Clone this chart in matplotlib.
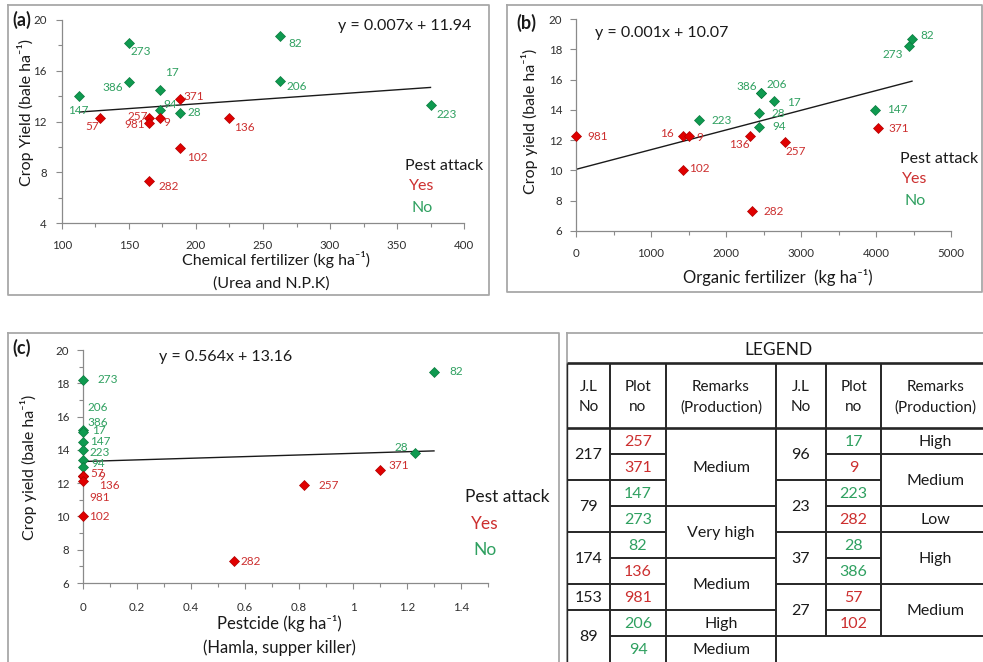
import matplotlib
matplotlib.use("Agg")
import matplotlib.pyplot as plt
import numpy as np
from matplotlib.ticker import FuncFormatter

plt.rcParams["font.family"] = ["Lato", "DejaVu Sans"]

# ---- data -------------------------------------------------------------
# plots that suffered pest attack (label "16" in panel b is drawn red)
PEST_YES = ["257", "371", "136", "981", "9", "282", "57", "102", "16"]

# (a) chemical fertilizer vs yield
a_plots = ["147", "273", "386", "17", "94", "28", "371", "57", "257",
           "981", "9", "136", "102", "282", "82", "206", "223"]
a_fert = [113, 150, 150, 173, 173, 188, 188, 128, 165,
          165, 173, 225, 188, 165, 263, 263, 375]
a_yield = [14.0, 18.2, 15.1, 14.5, 12.9, 12.7, 13.8, 12.3, 12.3,
           11.9, 12.3, 12.3, 9.9, 7.3, 18.7, 15.2, 13.3]
a_eq = "y = 0.007x + 11.94"
a_trend = (0.0074, 11.91)

# (b) organic fertilizer vs yield
b_plots = ["981", "16", "9", "102", "223", "136", "386", "206", "17",
           "28", "94", "257", "282", "147", "371", "273", "82"]
b_fert = [0, 1430, 1500, 1420, 1640, 2320, 2470, 2470, 2640,
          2440, 2440, 2790, 2350, 3980, 4030, 4440, 4480]
b_yield = [12.3, 12.3, 12.3, 10.0, 13.3, 12.3, 15.1, 15.1, 14.6,
           13.8, 12.9, 11.9, 7.3, 14.0, 12.8, 18.2, 18.7]
b_eq = "y = 0.001x + 10.07"
b_trend = (0.0013, 10.07)

# (c) pesticide vs yield
c_plots = ["273", "206", "386", "17", "147", "223", "94", "57", "9",
           "136", "981", "102", "282", "257", "371", "28", "82"]
c_pest = [0, 0, 0, 0, 0, 0, 0, 0, 0, 0, 0, 0, 0.56, 0.82, 1.10, 1.23, 1.30]
c_yield = [18.2, 15.2, 15.1, 14.5, 14.0, 13.4, 13.0, 12.4, 12.4,
           12.4, 12.1, 10.0, 7.3, 11.9, 12.8, 13.8, 18.7]
c_eq = "y = 0.564x + 13.16"
c_trend = (0.49, 13.30)

# legend table
left_jl = ["217", "79", "174", "153", "89"]
left_jl_span = [2, 2, 2, 1, 2]
left_plot_no = ["257", "371", "147", "273", "82", "136", "981", "206", "94"]
left_remarks = ["Medium", "Very high", "Medium", "High", "Medium"]
left_remarks_span = [3, 2, 2, 1, 1]
right_jl = ["96", "23", "37", "27"]
right_jl_span = [2, 2, 2, 2]
right_plot_no = ["17", "9", "223", "282", "28", "386", "57", "102"]
right_remarks = ["High", "Medium", "Low", "High", "Medium"]
right_remarks_span = [1, 2, 1, 2, 2]

# ---- label placement (pixel offsets from marker, alignment) -----------
a_lbl = {"147": (-1, -14, "center"), "273": (2, -9, "left"), "386": (-6, -5, "right"),
         "17": (5, 17, "left"), "94": (4, 6, "left"), "28": (8, 0, "left"),
         "371": (4, 2, "left"), "57": (0, -9, "right"), "257": (-1, 1, "right"),
         "981": (-4, -2, "right"), "9": (4, -5, "left"), "136": (5, -10, "left"),
         "102": (7, -9, "left"), "282": (9, -5, "left"), "82": (8, -7, "left"),
         "206": (6, -6, "left"), "223": (6, -9, "left")}
b_lbl = {"981": (11, -1, "left"), "16": (-9, 2, "right"), "9": (8, -2, "left"),
         "102": (7, 2, "left"), "223": (13, 0, "left"), "136": (0, -9, "right"),
         "386": (-4, 7, "right"), "206": (5, 9, "left"), "17": (13, -2, "left"),
         "28": (13, -1, "left"), "94": (13, 0, "left"), "257": (0, -10, "left"),
         "282": (11, 0, "left"), "147": (13, 0, "left"), "371": (10, 0, "left"),
         "273": (-6, -8, "right"), "82": (8, 3, "left")}
c_lbl = {"273": (15, 0, "left"), "206": (5, 22, "left"), "386": (4, 9, "left"),
         "17": (9, 11, "left"), "147": (7, 8, "left"), "223": (6, 7, "left"),
         "94": (8, 3, "left"), "57": (7, 3, "left"), "9": (15, 0, "left"),
         "136": (16, -9, "left"), "981": (6, -16, "left"), "102": (6, 0, "left"),
         "282": (6, 0, "left"), "257": (14, -1, "left"), "371": (8, 4, "left"),
         "28": (-7, 6, "right"), "82": (15, 0, "left")}

W, H = 983, 662
RED_M, GREEN_M = "#e00000", "#0f9a50"
RED_T, GREEN_T = "#cc2f2f", "#2fa060"
AXIS_GRAY = "#8a8a8a"
FRAME_GRAY = "#a8a8a8"
SUP = "ha\u207b\u00b9"

fig = plt.figure(figsize=(W / 100, H / 100), dpi=100)


def px_axes(x0, y0, x1, y1):
    return fig.add_axes([x0 / W, 1 - y1 / H, (x1 - x0) / W, (y1 - y0) / H])


def style_axes(ax, xlim, ylim, xmaj, xmin, ymaj, ymin, xpad, ypad):
    ax.set_xlim(*xlim)
    ax.set_ylim(*ylim)
    ax.patch.set_alpha(0)
    for s in ("top", "right"):
        ax.spines[s].set_visible(False)
    for s in ("left", "bottom"):
        ax.spines[s].set_color(AXIS_GRAY)
        ax.spines[s].set_linewidth(0.9)
    ax.set_xticks(xmaj)
    ax.set_yticks(ymaj)
    if xmin is not None:
        ax.set_xticks(xmin, minor=True)
    if ymin is not None:
        ax.set_yticks(ymin, minor=True)
    fmt = FuncFormatter(lambda v, _: f"{v:g}")
    ax.xaxis.set_major_formatter(fmt)
    ax.yaxis.set_major_formatter(fmt)
    ax.tick_params(which="both", direction="out", color=AXIS_GRAY, width=0.8,
                   labelsize=8.3, labelcolor="#2e2e2e")
    ax.tick_params(which="major", length=4)
    ax.tick_params(which="minor", length=3)
    ax.tick_params(axis="x", pad=xpad)
    ax.tick_params(axis="y", pad=ypad)


def scatter_panel(ax, plots, xs, ys, lbl, trend):
    for p, x, y in zip(plots, xs, ys):
        yes = p in PEST_YES
        ax.plot(x, y, "D", ms=5.4, mfc=RED_M if yes else GREEN_M,
                mec="#b00000" if yes else "#0a7a3e", mew=0.5, zorder=3, clip_on=False)
        dx, dy, ha = lbl[p]
        ax.annotate(p, (x, y), xytext=(dx, dy), textcoords="offset pixels",
                    ha=ha, va="center", fontsize=8.5,
                    color=RED_T if yes else GREEN_T, zorder=4)
    slope, icpt = trend
    xx = np.array([min(xs), max(xs)])
    ax.plot(xx, slope * xx + icpt, color="#1a1a1a", lw=1.0, zorder=2)


# ---- panel (a) ---------------------------------------------------------
ax_a = px_axes(62, 20, 464, 223)
style_axes(ax_a, (100, 400), (4, 20), np.arange(100, 401, 50), np.arange(100, 401, 25),
           np.arange(4, 21, 4), np.arange(4, 21, 2), 8.5, 7)
scatter_panel(ax_a, a_plots, a_fert, a_yield, a_lbl, a_trend)

# ---- panel (b) ---------------------------------------------------------
ax_b = px_axes(576, 19, 951, 231)
style_axes(ax_b, (0, 5000), (6, 20), np.arange(0, 5001, 1000), np.arange(0, 5001, 500),
           np.arange(6, 21, 2), None, 8, 6)
scatter_panel(ax_b, b_plots, b_fert, b_yield, b_lbl, b_trend)

# ---- panel (c) ---------------------------------------------------------
ax_c = px_axes(83, 350, 488, 583)
style_axes(ax_c, (0, 1.5), (6, 20), np.linspace(0, 1.4, 8), np.linspace(0, 1.5, 16),
           np.arange(6, 21, 2), np.arange(6, 21, 1), 10, 6)
scatter_panel(ax_c, c_plots, c_pest, c_yield, c_lbl, c_trend)

# ---- overlay in pixel coordinates: frames, titles, table ----------------
ov = fig.add_axes([0, 0, 1, 1], zorder=5)
ov.set_xlim(0, W)
ov.set_ylim(H, 0)
ov.axis("off")
ov.patch.set_alpha(0)


def frame(x0, y0, x1, y1):
    ov.plot([x0, x1, x1, x0, x0], [y0, y0, y1, y1, y0], color=FRAME_GRAY, lw=1.3,
            clip_on=False)


frame(8, 5, 489, 295)
frame(507, 5, 982, 292)
frame(8, 333, 559, 670)
frame(567, 333, 990, 670)

T = dict(ha="center", va="center", color="#1a1a1a")
for s, x, y in [("(a)", 22, 20), ("(b)", 526, 23), ("(c)", 22, 348)]:
    ov.text(x, y, s, fontsize=13, fontweight="bold", **T)
for s, x, y in [(a_eq, 405, 26), (b_eq, 662, 33), (c_eq, 226, 357)]:
    ov.text(x, y, s, fontsize=11.5, **T)

ov.text(26, 112, f"Crop Yield (bale {SUP})", rotation=90, fontsize=11.5, **T)
ov.text(529, 121, f"Crop yield (bale {SUP})", rotation=90, fontsize=11.5, **T)
ov.text(29, 467, f"Crop yield (bale {SUP})", rotation=90, fontsize=11.5, **T)
ov.text(276, 260, f"Chemical fertilizer (kg {SUP})", fontsize=11.5, **T)
ov.text(271, 284, "(Urea and N.P.K)", fontsize=11.5, **T)
ov.text(778, 278, f"Organic fertilizer  (kg {SUP})", fontsize=12, **T)
ov.text(279, 623, f"Pestcide (kg {SUP})", fontsize=12, **T)
ov.text(279, 648, "(Hamla, supper killer)", fontsize=12, **T)

for (px, py, yx, fs) in [(444, 166, 422, 11.5), (939, 159, 915, 11.5), (507, 497, 485, 12.5)]:
    ov.text(px, py, "Pest attack", fontsize=fs, **T)
    ov.text(yx, py + 20 if fs < 12 else py + 27, "Yes", fontsize=fs, ha="center",
            va="center", color=RED_T)
    ov.text(yx, py + 42 if fs < 12 else py + 53, "No", fontsize=fs, ha="center",
            va="center", color=GREEN_T)

# ---- legend table --------------------------------------------------------
COLS = [567, 610, 666, 776, 826, 881, 990]
HEAD_TOP, HEAD_BOT, ROW_H = 363, 428, 26
LINE = "#262626"


def hline(y, x0, x1, lw=1.4):
    if y < H - 1:
        ov.plot([x0, x1], [y, y], color=LINE, lw=lw, solid_capstyle="butt", clip_on=False)


def vline(x, y0, y1, lw=1.4):
    ov.plot([x, x], [y0, y1], color=LINE, lw=lw, solid_capstyle="butt", clip_on=False)


def column(x0, x1, texts, spans, colors=None):
    row = 0
    for i, (t, n) in enumerate(zip(texts, spans)):
        y_top = HEAD_BOT + row * ROW_H
        y_bot = y_top + n * ROW_H
        col = colors[i] if colors else "#1a1a1a"
        ov.text((x0 + x1) / 2, (y_top + y_bot) / 2 + 1, t, fontsize=11.5,
                ha="center", va="center", color=col)
        hline(y_bot, x0, x1)
        row += n


ov.text(778, 350, "LEGEND", fontsize=12.5, **T)
for x0, x1, s in [(567, 610, "J.L\nNo"), (610, 666, "Plot\nno"), (666, 776, "Remarks\n(Production)"),
                  (776, 826, "J.L\nNo"), (826, 881, "Plot\nno"), (881, 990, "Remarks\n(Production)")]:
    ov.text((x0 + x1) / 2, 397, s, fontsize=11, linespacing=1.55, **T)


def plot_colors(nums):
    return [RED_T if n in PEST_YES else GREEN_T for n in nums]


column(COLS[0], COLS[1], left_jl, left_jl_span)
column(COLS[1], COLS[2], left_plot_no, [1] * len(left_plot_no), plot_colors(left_plot_no))
column(COLS[2], COLS[3], left_remarks, left_remarks_span)
column(COLS[3], COLS[4], right_jl, right_jl_span)
column(COLS[4], COLS[5], right_plot_no, [1] * len(right_plot_no), plot_colors(right_plot_no))
column(COLS[5], COLS[6], right_remarks, right_remarks_span)

hline(HEAD_TOP, 567, 990, lw=1.9)
hline(HEAD_BOT, 567, 990, lw=1.9)
right_bot = HEAD_BOT + len(right_plot_no) * ROW_H
vline(567, HEAD_TOP, H + 5, lw=1.0)
vline(COLS[1], HEAD_TOP, H + 5)
vline(COLS[2], HEAD_TOP, H + 5)
vline(COLS[3], HEAD_TOP, H + 5)
vline(COLS[4], HEAD_TOP, right_bot)
vline(COLS[5], HEAD_TOP, right_bot)

fig.savefig("out.png", dpi=100)
